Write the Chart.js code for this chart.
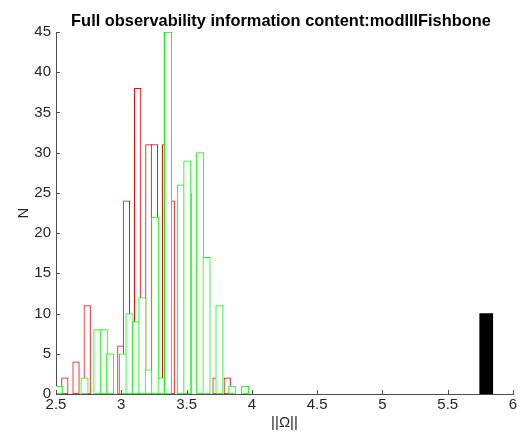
<!DOCTYPE html>
<html>
<head>
<meta charset="utf-8">
<script src="https://cdn.jsdelivr.net/npm/chart.js@4.4.1/dist/chart.umd.min.js"></script>
<style>
  html, body { margin: 0; padding: 0; background: #fff; }
  #wrap { width: 523px; height: 432px; }
</style>
</head>
<body>
<div id="wrap"><canvas id="hist"></canvas></div>
<script>
// red histogram: bin centres and counts
const redCenters = [2.5675, 2.6104, 2.6533, 2.6962, 2.7391, 2.7820, 2.8249, 2.8678, 2.9107, 2.9536,
                    2.9965, 3.0394, 3.0823, 3.1252, 3.1681, 3.2110, 3.2539, 3.2968, 3.3397, 3.3826,
                    3.4255, 3.4684, 3.5113, 3.5542, 3.5971, 3.6400, 3.6829, 3.7258, 3.7687, 3.8116];
const redCounts = [2, 0, 4, 0, 11, 0, 0, 0, 0, 0,
                   6, 24, 0, 38, 0, 31, 31, 0, 31, 24,
                   0, 0, 25, 0, 0, 0, 0, 2, 0, 2];
const redBinWidth = 0.0429;

// green histogram
const greenCenters = [2.5216, 2.5708, 2.6200, 2.6692, 2.7184, 2.7676, 2.8168, 2.8660, 2.9152, 2.9644,
                      3.0136, 3.0628, 3.1120, 3.1612, 3.2104, 3.2596, 3.3088, 3.3580, 3.4072, 3.4564,
                      3.5056, 3.5548, 3.6040, 3.6532, 3.7024, 3.7516, 3.8008, 3.8500, 3.8992, 3.9484];
const greenCounts = [1, 0, 0, 0, 2, 0, 8, 8, 5, 0,
                     5, 10, 9, 12, 3, 22, 2, 45, 0, 26,
                     29, 0, 30, 17, 0, 11, 0, 1, 0, 1];
const greenBinWidth = 0.0492;

// black bar
const blackCenters = [5.795];
const blackCounts = [10];
const blackBinWidth = 0.1;

const xTicks = [2.5, 3, 3.5, 4, 4.5, 5, 5.5, 6];
const yTicks = [0, 5, 10, 15, 20, 25, 30, 35, 40, 45];
const titleText = 'Full observability information content:modIIIFishbone';

// plot area (pixels) - used to turn bin widths into bar thickness
const plotLeft = 56;
const plotRight = 513;
const plotTop = 32;
const plotBottom = 394;
const xMin = xTicks[0];
const xMax = xTicks[xTicks.length - 1];
const pxPerUnit = (plotRight - plotLeft) / (xMax - xMin);

const axisColor = '#4d4d4d';
const textColor = '#262626';
const font = 'Helvetica, "Liberation Sans", Arial, sans-serif';

function points(xs, ys) {
    return xs.map((x, i) => ({ x: x, y: ys[i] }));
}

// tick marks pointing into the plot + title centred over the axes
const axesExtras = {
    id: 'axesExtras',
    afterDatasetsDraw(chart) {
        const ctx = chart.ctx;
        const xs = chart.scales.x;
        const ys = chart.scales.y;
        const area = chart.chartArea;
        ctx.save();
        ctx.strokeStyle = axisColor;
        ctx.lineWidth = 1;
        ctx.beginPath();
        xTicks.forEach(v => {
            const px = Math.round(xs.getPixelForValue(v)) + 0.5;
            ctx.moveTo(px, area.bottom);
            ctx.lineTo(px, area.bottom - 4);
        });
        yTicks.forEach(v => {
            const py = Math.round(ys.getPixelForValue(v)) + 0.5;
            ctx.moveTo(area.left, py);
            ctx.lineTo(area.left + 4, py);
        });
        ctx.stroke();

        ctx.fillStyle = '#000';
        ctx.font = 'bold 16.4px ' + font;
        ctx.textAlign = 'center';
        ctx.textBaseline = 'middle';
        ctx.fillText(titleText, 281, 21);
        ctx.restore();
    }
};

new Chart(document.getElementById('hist'), {
    type: 'bar',
    data: {
        datasets: [
            {
                label: 'green',
                data: points(greenCenters, greenCounts),
                backgroundColor: '#ffffff',
                borderColor: '#00ff00',
                borderWidth: 1,
                borderSkipped: false,
                grouped: false,
                barThickness: greenBinWidth * pxPerUnit + 1
            },
            {
                label: 'red',
                data: points(redCenters, redCounts),
                backgroundColor: '#ffffff',
                borderColor: '#ff0000',
                borderWidth: 1,
                borderSkipped: false,
                grouped: false,
                barThickness: redBinWidth * pxPerUnit + 1
            },
            {
                label: 'black',
                data: points(blackCenters, blackCounts),
                backgroundColor: '#000000',
                borderColor: '#000000',
                borderWidth: 0,
                grouped: false,
                barThickness: blackBinWidth * pxPerUnit
            }
        ]
    },
    options: {
        responsive: true,
        maintainAspectRatio: false,
        animation: false,
        devicePixelRatio: 1,
        layout: { padding: { left: 0, right: 523 - plotRight, top: plotTop, bottom: 0 } },
        plugins: {
            legend: { display: false },
            tooltip: { enabled: false },
            title: { display: false }
        },
        scales: {
            x: {
                type: 'linear',
                min: xMin,
                max: xMax,
                offset: false,
                grid: { display: false, drawTicks: false },
                border: { display: true, color: axisColor, width: 1 },
                ticks: {
                    stepSize: 0.5,
                    color: textColor,
                    padding: 2,
                    maxRotation: 0,
                    font: { family: font, size: 15 },
                    callback: v => String(Math.round(v * 10) / 10)
                },
                title: {
                    display: true,
                    text: '||Ω||',
                    color: textColor,
                    font: { family: font, size: 15 },
                    padding: 0
                },
                afterFit(scale) { scale.height = 432 - plotBottom; }
            },
            y: {
                min: 0,
                max: 45,
                grid: { display: false, drawTicks: false },
                border: { display: true, color: axisColor, width: 1 },
                ticks: {
                    stepSize: 5,
                    color: textColor,
                    padding: 5,
                    font: { family: font, size: 15 }
                },
                title: {
                    display: true,
                    text: 'N',
                    color: textColor,
                    font: { family: font, size: 15 },
                    padding: { top: 15, bottom: 0 }
                },
                afterFit(scale) { scale.width = plotLeft; }
            }
        }
    },
    plugins: [axesExtras]
});
</script>
</body>
</html>
